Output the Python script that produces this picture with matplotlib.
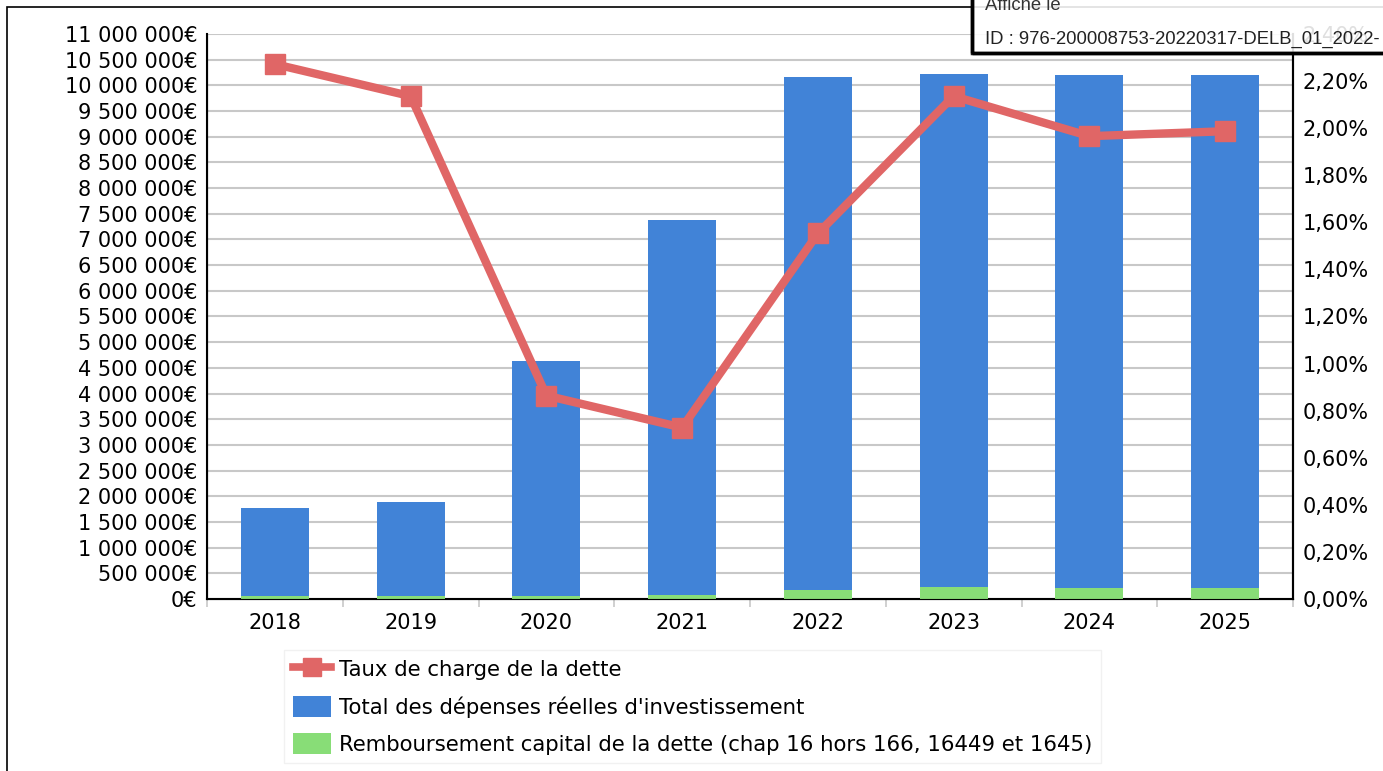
import matplotlib.pyplot as plt
from matplotlib.lines import Line2D
from matplotlib.patches import Patch, Rectangle
from matplotlib.ticker import FuncFormatter, MultipleLocator
import numpy as np

years = ["2018", "2019", "2020", "2021", "2022", "2023", "2024", "2025"]
depenses_invest = [1772000, 1889000, 4634000, 7379000, 10164000, 10222000, 10200000, 10200000]
remb_capital = [55000, 55000, 50000, 78000, 175000, 240000, 220000, 220000]
taux_charge = [2.272, 2.136, 0.864, 0.728, 1.553, 2.136, 1.966, 1.987]

c_blue = "#4183d7"
c_green = "#88dd77"
c_red = "#e06666"

W, H = 1383, 771
fig = plt.figure(figsize=(W / 100, H / 100), dpi=100)
ax = fig.add_axes([207 / W, 1 - 599 / H, (1293 - 207) / W, (599 - 34) / H])

x = np.arange(len(years))
ax.bar(x, depenses_invest, width=0.5, color=c_blue, zorder=2)
ax.bar(x, remb_capital, width=0.5, color=c_green, zorder=3)

ax.set_xlim(-0.5, len(years) - 0.5)
ax.set_ylim(0, 11000000)
ax.yaxis.set_major_locator(MultipleLocator(500000))


def euro(v, pos):
    return f"{int(round(v)):,}".replace(",", " ") + "€"


ax.yaxis.set_major_formatter(FuncFormatter(euro))
ax.grid(axis="y", color="#c8c8c8", linewidth=1.5)
ax.set_axisbelow(True)
ax.tick_params(axis="y", length=0, pad=7, labelsize=15)

ax.set_xticks(x)
ax.set_xticklabels(years)
ax.set_xticks(np.arange(-0.5, len(years)), minor=True)
ax.tick_params(axis="x", which="major", length=0, pad=10, labelsize=15)
ax.tick_params(axis="x", which="minor", length=6, width=1.2, color="#c8c8c8")

for s in ["left", "bottom", "right"]:
    ax.spines[s].set_linewidth(1.5)
    ax.spines[s].set_color("black")
ax.spines["top"].set_visible(False)

ax2 = ax.twinx()
ax2.plot(x, taux_charge, color=c_red, linewidth=6, marker="s", markersize=14, zorder=5)
ax2.set_ylim(0, 2.4)
ax2.yaxis.set_major_locator(MultipleLocator(0.2))
ax2.yaxis.set_major_formatter(FuncFormatter(lambda v, p: f"{v:.2f}".replace(".", ",") + "%"))
ax2.tick_params(axis="y", length=0, pad=7, labelsize=15)
ax2.spines["top"].set_visible(False)
ax2.spines["right"].set_linewidth(1.5)

handles = [
    Line2D([], [], color=c_red, linewidth=5.5, marker="s", markersize=13),
    Patch(facecolor=c_blue),
    Patch(facecolor=c_green),
]
labels = [
    "Taux de charge de la dette",
    "Total des dépenses réelles d'investissement",
    "Remboursement capital de la dette (chap 16 hors 166, 16449 et 1645)",
]
leg = fig.legend(handles, labels, loc="upper left", bbox_to_anchor=(284 / W, 1 - 650 / H),
                 fontsize=15.3, frameon=True, fancybox=False, edgecolor="#eeeeee",
                 handlelength=1.8, handleheight=1.18, handletextpad=0.4,
                 labelspacing=0.72, borderpad=0.4, borderaxespad=0)
leg.get_frame().set_linewidth(1)

# page border
fig.add_artist(Rectangle((7 / W, -0.1), 1.2, 1 - 7 / H + 0.1, transform=fig.transFigure,
                         fill=False, edgecolor="black", linewidth=1.2))

# stamp box
fig.add_artist(Rectangle((972 / W, 1 - 53 / H), 0.4, 0.2, transform=fig.transFigure,
                         facecolor="white", alpha=0.88, edgecolor="black", linewidth=2.5,
                         zorder=10))
fig.add_artist(Rectangle((972 / W, 1 - 53 / H), 0.4, 0.2, transform=fig.transFigure,
                         fill=False, edgecolor="black", linewidth=2.5, zorder=10))
fig.text(985 / W, 1 - 5 / H, "Affiché le", fontsize=13.3, family="Liberation Sans",
         color="#333333", va="center", zorder=11)
fig.text(985 / W, 1 - 39 / H, "ID : 976-200008753-20220317-DELB_01_2022-", fontsize=13.3,
         family="Liberation Sans", color="#222222", va="center", zorder=11)

fig.savefig("out.png", dpi=100)
